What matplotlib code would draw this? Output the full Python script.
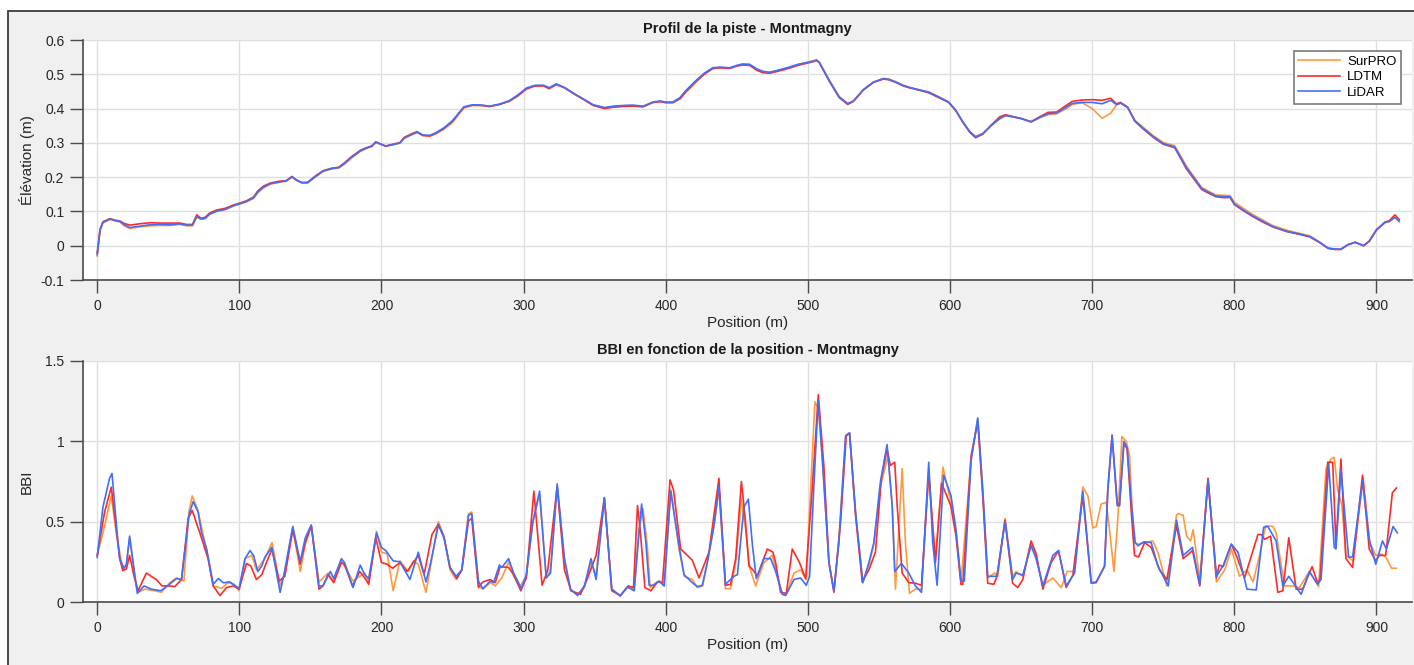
"""Profil de la piste et BBI en fonction de la position - Montmagny."""

import matplotlib

matplotlib.use("Agg")
import matplotlib.pyplot as plt
from matplotlib.patches import Rectangle
from matplotlib.ticker import FuncFormatter, MultipleLocator

# --- elevation profile (m) ---------------------------------------------------
elev_pos = [
    0, 2, 4, 9, 12, 16, 19, 23, 30, 37,
    44, 51, 58, 63, 67, 70, 73, 76, 79, 84,
    90, 96, 100, 105, 110, 113, 117, 122, 128, 133,
    137, 140, 144, 148, 153, 159, 165, 170, 174, 179,
    185, 189, 193, 196, 200, 203, 208, 213, 216, 221,
    225, 229, 234, 238, 244, 250, 254, 258, 264, 271,
    276, 283, 290, 296, 302, 308, 314, 318, 323, 329,
    335, 342, 349, 357, 363, 370, 377, 384, 391, 396,
    400, 405, 410, 414, 421, 427, 433, 438, 445, 450,
    454, 459, 464, 468, 473, 480, 487, 493, 499, 504,
    506, 508, 515, 522, 528, 532, 539, 546, 553, 557,
    562, 567, 572, 578, 585, 592, 599, 604, 609, 614,
    618, 623, 629, 635, 639, 644, 650, 657, 663, 669,
    675, 682, 686, 693, 700, 707, 713, 717, 720, 725,
    730, 736, 743, 750, 758, 762, 766, 771, 777, 781,
    787, 793, 797, 800, 806, 813, 820, 827, 837, 846,
    853, 860, 866, 871, 875, 880, 885, 891, 895, 900,
    906, 909, 913, 916,
]
elev_surpro = [
    -0.030, 0.044, 0.066, 0.077, 0.073, 0.069, 0.058, 0.050, 0.055, 0.058,
    0.059, 0.059, 0.062, 0.058, 0.058, 0.083, 0.077, 0.079, 0.091, 0.100,
    0.105, 0.116, 0.121, 0.128, 0.138, 0.154, 0.169, 0.180, 0.185, 0.188,
    0.200, 0.191, 0.183, 0.183, 0.199, 0.217, 0.224, 0.227, 0.238, 0.256,
    0.275, 0.283, 0.289, 0.301, 0.295, 0.290, 0.294, 0.299, 0.313, 0.323,
    0.330, 0.321, 0.320, 0.326, 0.340, 0.360, 0.381, 0.402, 0.409, 0.409,
    0.406, 0.412, 0.421, 0.436, 0.456, 0.466, 0.466, 0.459, 0.471, 0.460,
    0.444, 0.427, 0.410, 0.402, 0.405, 0.408, 0.409, 0.406, 0.418, 0.421,
    0.418, 0.418, 0.428, 0.446, 0.476, 0.500, 0.516, 0.519, 0.518, 0.525,
    0.529, 0.528, 0.514, 0.507, 0.505, 0.512, 0.520, 0.528, 0.534, 0.540,
    0.543, 0.535, 0.483, 0.435, 0.415, 0.422, 0.455, 0.477, 0.488, 0.486,
    0.478, 0.467, 0.461, 0.455, 0.448, 0.434, 0.419, 0.395, 0.361, 0.332,
    0.318, 0.327, 0.350, 0.370, 0.379, 0.376, 0.371, 0.361, 0.373, 0.382,
    0.385, 0.400, 0.412, 0.417, 0.400, 0.372, 0.386, 0.410, 0.416, 0.403,
    0.366, 0.345, 0.321, 0.301, 0.292, 0.264, 0.234, 0.205, 0.170, 0.161,
    0.148, 0.147, 0.146, 0.127, 0.110, 0.091, 0.075, 0.059, 0.045, 0.036,
    0.029, 0.011, -0.007, -0.010, -0.010, 0.003, 0.010, 0.000, 0.013, 0.045,
    0.067, 0.070, 0.082, 0.070,
]
elev_ldtm = [
    -0.020, 0.048, 0.070, 0.079, 0.075, 0.072, 0.065, 0.060, 0.064, 0.067,
    0.066, 0.066, 0.066, 0.062, 0.062, 0.090, 0.080, 0.083, 0.095, 0.104,
    0.109, 0.119, 0.124, 0.131, 0.142, 0.160, 0.174, 0.183, 0.188, 0.190,
    0.202, 0.192, 0.184, 0.185, 0.202, 0.219, 0.226, 0.229, 0.242, 0.260,
    0.278, 0.285, 0.291, 0.303, 0.295, 0.291, 0.296, 0.301, 0.316, 0.326,
    0.333, 0.322, 0.320, 0.327, 0.342, 0.363, 0.384, 0.404, 0.410, 0.409,
    0.406, 0.412, 0.422, 0.438, 0.458, 0.466, 0.466, 0.458, 0.470, 0.460,
    0.444, 0.427, 0.409, 0.400, 0.404, 0.406, 0.407, 0.405, 0.418, 0.420,
    0.417, 0.417, 0.429, 0.449, 0.478, 0.500, 0.517, 0.519, 0.517, 0.524,
    0.527, 0.526, 0.512, 0.505, 0.503, 0.510, 0.518, 0.526, 0.532, 0.537,
    0.541, 0.534, 0.480, 0.432, 0.412, 0.421, 0.454, 0.476, 0.486, 0.484,
    0.476, 0.466, 0.460, 0.454, 0.446, 0.432, 0.418, 0.394, 0.360, 0.330,
    0.315, 0.325, 0.352, 0.376, 0.382, 0.377, 0.371, 0.362, 0.376, 0.389,
    0.390, 0.410, 0.421, 0.425, 0.426, 0.424, 0.430, 0.414, 0.418, 0.404,
    0.363, 0.340, 0.316, 0.296, 0.286, 0.257, 0.226, 0.198, 0.164, 0.155,
    0.143, 0.140, 0.141, 0.120, 0.103, 0.085, 0.069, 0.055, 0.041, 0.033,
    0.026, 0.009, -0.008, -0.011, -0.011, 0.003, 0.010, 0.000, 0.014, 0.047,
    0.069, 0.073, 0.090, 0.076,
]
elev_lidar = [
    -0.026, 0.046, 0.068, 0.078, 0.074, 0.071, 0.061, 0.053, 0.057, 0.061,
    0.062, 0.061, 0.064, 0.060, 0.060, 0.085, 0.078, 0.080, 0.092, 0.101,
    0.106, 0.117, 0.122, 0.129, 0.140, 0.157, 0.171, 0.181, 0.186, 0.189,
    0.201, 0.192, 0.184, 0.184, 0.200, 0.218, 0.225, 0.228, 0.240, 0.258,
    0.276, 0.284, 0.290, 0.302, 0.296, 0.290, 0.295, 0.300, 0.314, 0.324,
    0.331, 0.323, 0.322, 0.329, 0.344, 0.365, 0.385, 0.405, 0.411, 0.410,
    0.407, 0.413, 0.423, 0.440, 0.460, 0.468, 0.468, 0.461, 0.472, 0.461,
    0.445, 0.428, 0.411, 0.403, 0.407, 0.409, 0.410, 0.407, 0.419, 0.422,
    0.419, 0.419, 0.432, 0.452, 0.481, 0.503, 0.519, 0.521, 0.519, 0.526,
    0.530, 0.529, 0.516, 0.509, 0.506, 0.513, 0.521, 0.529, 0.534, 0.538,
    0.540, 0.535, 0.482, 0.434, 0.414, 0.422, 0.455, 0.477, 0.487, 0.485,
    0.477, 0.468, 0.461, 0.455, 0.448, 0.434, 0.419, 0.395, 0.361, 0.332,
    0.318, 0.327, 0.351, 0.371, 0.380, 0.376, 0.371, 0.361, 0.374, 0.385,
    0.387, 0.405, 0.415, 0.418, 0.418, 0.414, 0.424, 0.412, 0.416, 0.403,
    0.364, 0.342, 0.318, 0.298, 0.288, 0.259, 0.230, 0.201, 0.167, 0.158,
    0.145, 0.143, 0.143, 0.122, 0.105, 0.087, 0.071, 0.056, 0.042, 0.034,
    0.027, 0.010, -0.007, -0.010, -0.010, 0.003, 0.010, 0.000, 0.013, 0.046,
    0.068, 0.071, 0.083, 0.072,
]

# --- BBI (one position list per series) ---------------------------------------
surpro_pos = [
    0, 4, 9.9, 13.4, 18, 20.5, 22.8, 26.4, 28.7, 33.4, 40.5, 45.2, 51, 55.8, 61,
    64.5, 66.8, 70.6, 77, 81.6, 87.5, 92, 96.5, 99.8, 104, 108.8, 112, 118, 123,
    128.7, 132, 137.6, 142.8, 146.4, 150.6, 156, 162.4, 166.4, 171.8, 180, 184.7,
    188.2, 191, 196.5, 200, 204, 208.2, 213, 218.8, 222.4, 225.9, 231.3, 234.6,
    240, 244, 248.2, 252.5, 256.5, 261.2, 263.5, 268.2, 271.3, 276.5, 280, 284.7,
    289.4, 293, 297.6, 301.9, 306.5, 311.2, 315.9, 318.9, 323.6, 328.7, 333, 338,
    342.8, 347.4, 351, 356.8, 362, 368, 373, 377.8, 381, 384, 387, 389, 393, 396,
    399, 403.5, 409.3, 413, 418.7, 422.2, 426, 430, 434, 437.4, 442, 445.6,
    449.2, 453.2, 456.2, 459, 463.2, 469, 474.9, 482, 484.8, 490.2, 494.8, 498.8,
    501.9, 504.9, 507.3, 510, 514.8, 518.3, 521.8, 526.5, 529.3, 533.5, 538.6,
    542.9, 546.4, 551, 556.4, 559.3, 561.6, 566.3, 568.6, 571.4, 575.6, 579.9,
    585, 589.7, 595, 600.7, 604.2, 607.7, 614.8, 619.5, 623, 626.5, 631.2, 633.6,
    638.7, 644, 646.5, 651.2, 657, 660.6, 665.3, 672.3, 678.2, 682.4, 687.6,
    693.4, 697, 700.5, 702.8, 706.3, 709.9, 712.2, 715.3, 718.1, 720.9, 724,
    726.3, 729.3, 732.2, 736.4, 742.7, 746.2, 752.5, 759.3, 760.5, 764, 766.4,
    769.2, 771, 775.7, 781.5, 787.4, 793.2, 797.9, 803.7, 808.9, 813.1, 817.8,
    822, 827.1, 829.4, 835.3, 841.1, 845.8, 852.8, 859.3, 864.5, 868, 870.3,
    872.7, 875.7, 878.5, 883.6, 890.7, 895.3, 899.5, 903, 906.5, 910.7, 914,
]
surpro_bbi = [
    0.29, 0.43, 0.66, 0.43, 0.20, 0.225, 0.40, 0.16, 0.06, 0.08, 0.07, 0.06, 0.12, 0.15, 0.13,
    0.56, 0.66, 0.58, 0.32, 0.10, 0.085, 0.12, 0.11, 0.07, 0.27, 0.29, 0.20, 0.27, 0.37,
    0.10, 0.18, 0.465, 0.19, 0.36, 0.475, 0.125, 0.18, 0.13, 0.256, 0.13, 0.16,
    0.18, 0.12, 0.44, 0.31, 0.30, 0.07, 0.256, 0.19, 0.256, 0.235, 0.06, 0.225,
    0.50, 0.41, 0.20, 0.14, 0.20, 0.55, 0.56, 0.10, 0.08, 0.12, 0.10, 0.15,
    0.25, 0.16, 0.10, 0.16, 0.50, 0.67, 0.15, 0.20, 0.72, 0.26, 0.07, 0.05,
    0.09, 0.24, 0.17, 0.64, 0.08, 0.04, 0.09, 0.08, 0.45, 0.58, 0.35, 0.09, 0.12, 0.13,
    0.10, 0.70, 0.33, 0.16, 0.14, 0.09, 0.10, 0.28, 0.48, 0.70, 0.083, 0.083,
    0.245, 0.64, 0.45, 0.215, 0.10, 0.245, 0.29, 0.048, 0.048, 0.18, 0.20, 0.14,
    0.70, 1.246, 1.20, 0.91, 0.245, 0.07, 0.39, 1.03, 1.05, 0.56, 0.12,
    0.23, 0.36, 0.72, 0.91, 0.60, 0.08, 0.83, 0.37, 0.054, 0.08, 0.08,
    0.79, 0.27, 0.84, 0.62, 0.43, 0.12, 0.89, 1.14, 0.70, 0.15, 0.18, 0.16,
    0.52, 0.16, 0.19, 0.16, 0.37, 0.27, 0.104, 0.15, 0.09, 0.19, 0.19,
    0.715, 0.66, 0.46, 0.47, 0.61, 0.62, 0.45, 0.19, 0.52, 1.03, 1.00,
    0.91, 0.37, 0.36, 0.37, 0.38, 0.31, 0.10, 0.54, 0.55, 0.54, 0.41,
    0.38, 0.45, 0.14, 0.77, 0.125, 0.20, 0.33, 0.16, 0.20, 0.125, 0.29,
    0.475, 0.47, 0.43, 0.10, 0.10, 0.09, 0.19, 0.096, 0.83, 0.89, 0.90,
    0.70, 0.60, 0.29, 0.256, 0.77, 0.37, 0.29, 0.30, 0.28, 0.21, 0.21,
]

ldtm_pos = [
    0, 5.2, 9.9, 13.4, 15.8, 18, 20.5, 22.8, 25.9, 28.7, 34.6, 38, 41.6, 45.6, 50,
    54.6, 59.3, 64, 66.8, 72.2, 78, 81.6, 86.4, 91, 95.8, 99.8, 105, 108, 112,
    115.8, 119, 123, 128, 132, 137.6, 142.8, 146.4, 150.6, 156, 158.8, 162.4,
    166.4, 171.8, 174, 179.5, 184.7, 188.2, 191, 196, 200, 204, 207.8, 213, 218,
    225.9, 230, 235.5, 240, 244, 248.2, 253, 256.5, 261.2, 263.5, 268.2, 271.3,
    276.5, 280, 283.5, 289.4, 293, 298, 301.9, 307.2, 309.6, 313, 317, 323.6,
    328.7, 333.4, 340, 344.6, 351, 356.8, 362, 368, 373.6, 377.3, 380.1, 382,
    385.3, 389.5, 394.2, 397.7, 403, 405.4, 410.5, 415.2, 418.7, 423.4, 430.4,
    437.4, 442, 445.6, 449.2, 453.2, 455.7, 458.5, 461.3, 464.4, 471.4, 475.4,
    477.3, 480.8, 484.8, 489, 494.1, 498.4, 503, 507.3, 511.2, 514.8, 518.3, 523,
    527, 529.3, 533.5, 538.2, 542.9, 547.5, 551.7, 555.7, 558, 561.1, 562.8,
    566.3, 571, 575.6, 579.9, 585, 589.7, 594, 600.5, 604.2, 607.7, 609, 614.8,
    619.5, 623, 626.5, 630.8, 633, 638.7, 644, 647.6, 651.2, 657, 660.6, 665.3,
    671.1, 676.3, 681.7, 686.4, 693.4, 699.3, 702.8, 708.7, 711, 714, 717.6,
    719.2, 722.3, 724.6, 727.5, 729.8, 732.6, 736.9, 741.5, 747.4, 752.5, 759.3,
    764, 770.6, 775.7, 781.5, 787.4, 789.3, 792.1, 797.9, 801.4, 807.2, 816.6,
    818.9, 821.3, 825.5, 830.6, 834.1, 838.3, 843.5, 848.1, 854.7, 858.6, 860.3,
    865.7, 869.2, 871.5, 875, 878.5, 883.2, 890.2, 894.9, 899.5, 901.9, 906.5,
    911.2, 914,
]
ldtm_bbi = [
    0.29, 0.56, 0.715, 0.45, 0.27, 0.195, 0.205, 0.29, 0.16, 0.07, 0.18, 0.16, 0.14, 0.10, 0.10,
    0.096, 0.14, 0.52, 0.57, 0.43, 0.27, 0.10, 0.04, 0.09, 0.10, 0.08, 0.24, 0.225, 0.14,
    0.17, 0.245, 0.33, 0.13, 0.16, 0.45, 0.235, 0.37, 0.475, 0.08, 0.10, 0.17,
    0.12, 0.245, 0.235, 0.10, 0.19, 0.15, 0.11, 0.40, 0.245, 0.235, 0.21, 0.245, 0.19,
    0.29, 0.17, 0.42, 0.485, 0.40, 0.215, 0.146, 0.20, 0.505, 0.52, 0.09, 0.125,
    0.14, 0.12, 0.22, 0.215, 0.17, 0.07, 0.15, 0.69, 0.45, 0.104, 0.20, 0.72,
    0.20, 0.07, 0.048, 0.14, 0.29, 0.65, 0.07, 0.04, 0.10, 0.09, 0.60, 0.45,
    0.09, 0.07, 0.125, 0.12, 0.76, 0.70, 0.33, 0.29, 0.26, 0.15, 0.31,
    0.77, 0.104, 0.11, 0.27, 0.75, 0.54, 0.225, 0.20, 0.16, 0.33, 0.31,
    0.245, 0.06, 0.054, 0.33, 0.245, 0.146, 0.70, 1.29, 0.85, 0.245, 0.06, 0.50,
    1.04, 1.05, 0.54, 0.125, 0.20, 0.31, 0.77, 0.95, 0.85, 0.87, 0.60,
    0.18, 0.12, 0.117, 0.104, 0.81, 0.245, 0.74, 0.60, 0.41, 0.11, 0.11, 0.91,
    1.12, 0.66, 0.117, 0.11, 0.16, 0.51, 0.117, 0.09, 0.14, 0.38, 0.30, 0.08,
    0.245, 0.32, 0.09, 0.167, 0.66, 0.117, 0.12, 0.225, 0.70, 1.04, 0.62,
    0.60, 0.985, 0.954, 0.56, 0.29, 0.28, 0.37, 0.34, 0.20, 0.14, 0.475,
    0.27, 0.32, 0.10, 0.77, 0.15, 0.23, 0.22, 0.36, 0.29, 0.15, 0.42,
    0.42, 0.39, 0.41, 0.06, 0.07, 0.40, 0.08, 0.08, 0.22, 0.12, 0.14,
    0.87, 0.87, 0.35, 0.89, 0.27, 0.215, 0.79, 0.33, 0.256, 0.29, 0.29,
    0.68, 0.71,
]

lidar_pos = [
    0, 4, 8.7, 10.4, 14.6, 15.8, 18.8, 20.5, 22.8, 25.2, 28.2, 33, 38, 44.7, 50,
    55.8, 59.3, 62.8, 64.5, 67.5, 71, 73.4, 77, 81.6, 85.2, 88.7, 93.4, 96.5, 99.8,
    104, 107.5, 110, 113, 115.8, 118, 122.8, 128.7, 132, 137.6, 142.8, 146.4,
    150.6, 156, 158.8, 164, 166.4, 171.8, 174, 180, 185, 188.2, 191, 196.5, 200,
    203, 208.2, 213, 220, 225.9, 231.3, 234.6, 240, 244, 248.2, 252.5, 256.5,
    261.2, 263.5, 268.2, 271.3, 276.5, 278.8, 283, 284.7, 289.4, 293, 298.4,
    301.9, 306.5, 311.2, 315.9, 318.9, 323.6, 328.7, 333, 338, 342.8, 347.4, 351,
    356.8, 362, 368, 373, 377.8, 380.6, 383, 386, 388.3, 391.4, 395.3, 398.8,
    403.5, 409.3, 412.9, 418.7, 422.2, 425.7, 429.2, 433.9, 437.4, 442, 448,
    450.4, 455, 458.1, 461, 463.7, 469, 473.8, 477.3, 482, 484.3, 490.2, 494.8,
    498.8, 501.2, 504.2, 507.3, 510, 514.8, 518.3, 521.8, 526.5, 529.3, 533.5,
    538.6, 542.9, 546.4, 551, 555.7, 559.3, 561.1, 565.8, 571, 575.6, 579.9,
    585, 587.8, 590.9, 595.5, 600.7, 604.2, 607.7, 610, 614.8, 619.5, 623, 626.5,
    630.8, 633, 638.7, 644, 646.5, 651.2, 657, 660.6, 665.3, 672.3, 676.3, 681.7,
    687.6, 693.4, 699.3, 702.8, 708.7, 711, 714, 717.6, 719.2, 722.3, 724.6,
    727.5, 730.3, 732.2, 736.4, 741.5, 746.2, 753.5, 759.3, 764, 770.6, 775.7,
    781.5, 787.4, 792.1, 797.9, 802.6, 808.9, 815.4, 820.6, 823.6, 829.4, 834.1,
    838.3, 847, 852.8, 858.6, 861, 866.4, 870.3, 871.5, 875, 880.4, 883.2, 890.2,
    894.9, 899.5, 904.2, 907, 911.7, 914.7,
]
lidar_bbi = [
    0.277, 0.59, 0.77, 0.80, 0.37, 0.27, 0.21, 0.235, 0.41, 0.25, 0.054, 0.10, 0.08, 0.07, 0.104,
    0.146, 0.14, 0.40, 0.54, 0.625, 0.56, 0.43, 0.33, 0.11, 0.146, 0.12, 0.125, 0.104, 0.085,
    0.27, 0.32, 0.29, 0.19, 0.225, 0.28, 0.34, 0.06, 0.20, 0.47, 0.25, 0.40,
    0.48, 0.10, 0.10, 0.19, 0.146, 0.27, 0.245, 0.09, 0.23, 0.17, 0.146, 0.43, 0.34,
    0.32, 0.256, 0.25, 0.14, 0.31, 0.125, 0.245, 0.48, 0.40, 0.215, 0.16, 0.20,
    0.54, 0.55, 0.13, 0.083, 0.13, 0.12, 0.23, 0.215, 0.27, 0.18, 0.083,
    0.17, 0.50, 0.69, 0.15, 0.18, 0.735, 0.27, 0.08, 0.04, 0.10, 0.27, 0.14,
    0.65, 0.08, 0.037, 0.094, 0.07, 0.37, 0.61, 0.37, 0.104, 0.104, 0.13, 0.10,
    0.69, 0.35, 0.17, 0.12, 0.096, 0.104, 0.245, 0.475, 0.72, 0.11, 0.16,
    0.17, 0.59, 0.64, 0.35, 0.146, 0.27, 0.27, 0.19, 0.048, 0.04, 0.14, 0.15,
    0.104, 0.16, 0.725, 1.256, 0.91, 0.245, 0.07, 0.37, 1.03, 1.054, 0.56,
    0.12, 0.245, 0.37, 0.746, 0.98, 0.60, 0.19, 0.24, 0.18, 0.10, 0.06,
    0.87, 0.37, 0.104, 0.79, 0.66, 0.45, 0.13, 0.13, 0.88, 1.146, 0.70, 0.16,
    0.16, 0.16, 0.50, 0.14, 0.18, 0.167, 0.35, 0.27, 0.10, 0.29, 0.32, 0.10,
    0.18, 0.69, 0.12, 0.125, 0.22, 0.70, 1.03, 0.60, 0.60, 1.00, 0.96,
    0.62, 0.37, 0.35, 0.375, 0.37, 0.225, 0.10, 0.51, 0.29, 0.34, 0.11,
    0.756, 0.16, 0.225, 0.36, 0.31, 0.08, 0.075, 0.465, 0.47, 0.38, 0.10,
    0.16, 0.048, 0.19, 0.11, 0.14, 0.86, 0.34, 0.33, 0.82, 0.28, 0.28, 0.756,
    0.39, 0.235, 0.38, 0.33, 0.47, 0.43,
]

series = ["SurPRO", "LDTM", "LiDAR"]
colors = {"SurPRO": "#ff9a3c", "LDTM": "#ff2a2a", "LiDAR": "#3f6fff"}

plt.rcParams["font.family"] = ["Liberation Sans", "DejaVu Sans"]
plt.rcParams["axes.unicode_minus"] = False

W, H = 1414, 665
fig = plt.figure(figsize=(W / 100, H / 100), dpi=100, facecolor="white")
# grey window background with its dark frame (top and left edges visible)
fig.add_artist(Rectangle((8 / W, -0.1), 1.2, 1.1 - 11 / H, transform=fig.transFigure,
                         facecolor="#f0f0f0", edgecolor="#3c3c3c", lw=1.3, zorder=-5))

ax_top = fig.add_axes([83 / W, (H - 280) / H, (1412 - 83) / W, 240 / H])
ax_bot = fig.add_axes([83 / W, (H - 602) / H, (1412 - 83) / W, 241 / H])

fmt = FuncFormatter(lambda v, _: f"{v:g}")
for ax in (ax_top, ax_bot):
    ax.set_facecolor("white")
    ax.set_xlim(-10, 925)
    ax.xaxis.set_major_locator(MultipleLocator(100))
    ax.yaxis.set_major_formatter(fmt)
    ax.grid(True, color="#dfdfdf", lw=1.0)
    ax.set_axisbelow(True)
    for side in ("top", "right"):
        ax.spines[side].set_visible(False)
    for side in ("left", "bottom"):
        ax.spines[side].set_color("#4a4a4a")
        ax.spines[side].set_linewidth(1.2)
    ax.tick_params(direction="out", length=9.5, width=1.0, color="#4a4a4a",
                   labelsize=10, labelcolor="#262626", pad=4)
    ax.set_xlabel("Position (m)", fontsize=11, color="#262626", labelpad=2)

# top: elevation profile
for name, ys in zip(series, (elev_surpro, elev_ldtm, elev_lidar)):
    ax_top.plot(elev_pos, ys, color=colors[name], lw=1.2, label=name)
ax_top.set_ylim(-0.1, 0.6)
ax_top.yaxis.set_major_locator(MultipleLocator(0.1))
ax_top.set_ylabel("Élévation (m)", fontsize=11, color="#262626", labelpad=4)
ax_top.set_title("Profil de la piste - Montmagny", fontsize=10.5, fontweight="bold",
                 color="#1a1a1a", pad=5)
leg = ax_top.legend(loc="upper right", bbox_to_anchor=(1 - 11 / 1329, 1 - 11 / 240),
                    borderaxespad=0, fontsize=9.5, handlelength=3.2, labelspacing=0.25,
                    handletextpad=0.5, borderpad=0.35, fancybox=False, framealpha=1)
leg.get_frame().set_edgecolor("#7a7a7a")
leg.get_frame().set_linewidth(1.2)

# bottom: BBI
bbi = [(surpro_pos, surpro_bbi), (ldtm_pos, ldtm_bbi), (lidar_pos, lidar_bbi)]
for name, (xs, ys) in zip(series, bbi):
    ax_bot.plot(xs, ys, color=colors[name], lw=1.2)
ax_bot.set_ylim(0, 1.5)
ax_bot.yaxis.set_major_locator(MultipleLocator(0.5))
ax_bot.set_ylabel("BBI", fontsize=11, color="#262626", labelpad=8)
ax_bot.set_title("BBI en fonction de la position - Montmagny", fontsize=10.5,
                 fontweight="bold", color="#1a1a1a", pad=5)

fig.savefig("out.png", dpi=100, facecolor=fig.get_facecolor())
